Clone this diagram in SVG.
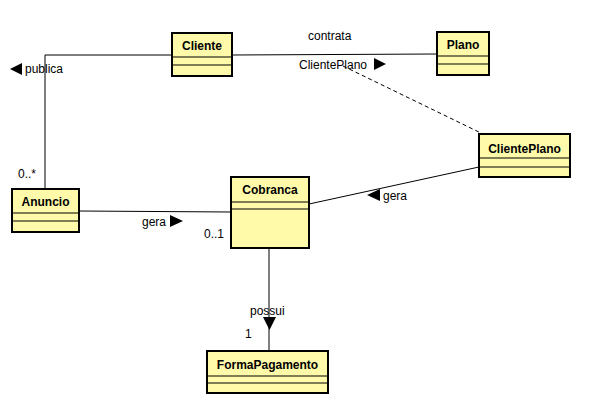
<svg xmlns="http://www.w3.org/2000/svg" width="589" height="412" viewBox="0 0 589 412">
<style>
.box{fill:#fffaaa;stroke:#000;stroke-width:2}
.sep{stroke:#000;stroke-width:1}
.name{font-family:"Liberation Sans",Arial,sans-serif;font-size:12px;font-weight:bold;text-anchor:middle;fill:#000}
.lbl{font-family:"Liberation Sans",Arial,sans-serif;font-size:12px;fill:#000}
.edge{stroke:#000;stroke-width:1;fill:none}
.dash{stroke:#000;stroke-width:1;fill:none;stroke-dasharray:4,3}
.tri{fill:#000}
</style>
<rect width="589" height="412" fill="#fff"/>
<g id="connectors">
<polyline class="edge" points="45,189 45,55 172,55"/>
<line class="edge" x1="232" y1="55" x2="437" y2="54"/>
<line class="dash" x1="343" y1="66" x2="483" y2="134"/>
<line class="edge" x1="79" y1="211" x2="231" y2="212"/>
<line class="edge" x1="479" y1="167" x2="309" y2="204"/>
<line class="edge" x1="269" y1="248" x2="269" y2="351"/>
<polygon class="tri" points="22,63 22,75 10,69"/>
<text class="lbl" x="25" y="73">publica</text>
<text class="lbl" x="18" y="178">0..*</text>
<text class="lbl" x="308" y="40">contrata</text>
<text class="lbl" x="299" y="69">ClientePlano</text>
<polygon class="tri" points="374,58 374,70 386,64"/>
<text class="lbl" x="142" y="226">gera</text>
<polygon class="tri" points="170,215 170,227 183,221"/>
<text class="lbl" x="204" y="238">0..1</text>
<polygon class="tri" points="380,189 380,201 367,195"/>
<text class="lbl" x="383" y="200">gera</text>
<text class="lbl" x="250" y="315">possui</text>
<polygon class="tri" points="263,317 276,317 269.5,330"/>
<text class="lbl" x="245" y="338">1</text>
</g>
<g id="Cliente">
<rect class="box" x="172" y="33" width="60" height="43"/>
<line class="sep" x1="172" y1="57" x2="232" y2="57"/>
<line class="sep" x1="172" y1="65" x2="232" y2="65"/>
<text class="name" x="202" y="50">Cliente</text>
</g>
<g id="Plano">
<rect class="box" x="437" y="32" width="52" height="43"/>
<line class="sep" x1="437" y1="56" x2="489" y2="56"/>
<line class="sep" x1="437" y1="64" x2="489" y2="64"/>
<text class="name" x="463" y="49">Plano</text>
</g>
<g id="Anuncio">
<rect class="box" x="12" y="189" width="67" height="43"/>
<line class="sep" x1="12" y1="213" x2="79" y2="213"/>
<line class="sep" x1="12" y1="221" x2="79" y2="221"/>
<text class="name" x="45.5" y="206">Anuncio</text>
</g>
<g id="Cobranca">
<rect class="box" x="231" y="177" width="78" height="71"/>
<line class="sep" x1="231" y1="202" x2="309" y2="202"/>
<line class="sep" x1="231" y1="209" x2="309" y2="209"/>
<text class="name" x="270" y="194">Cobranca</text>
</g>
<g id="ClientePlano">
<rect class="box" x="479" y="134" width="91" height="43"/>
<line class="sep" x1="479" y1="158" x2="570" y2="158"/>
<line class="sep" x1="479" y1="167" x2="570" y2="167"/>
<text class="name" x="524.5" y="153">ClientePlano</text>
</g>
<g id="FormaPagamento">
<rect class="box" x="207" y="351" width="121" height="42"/>
<line class="sep" x1="207" y1="376" x2="328" y2="376"/>
<line class="sep" x1="207" y1="383" x2="328" y2="383"/>
<text class="name" x="267.5" y="369">FormaPagamento</text>
</g>
</svg>
